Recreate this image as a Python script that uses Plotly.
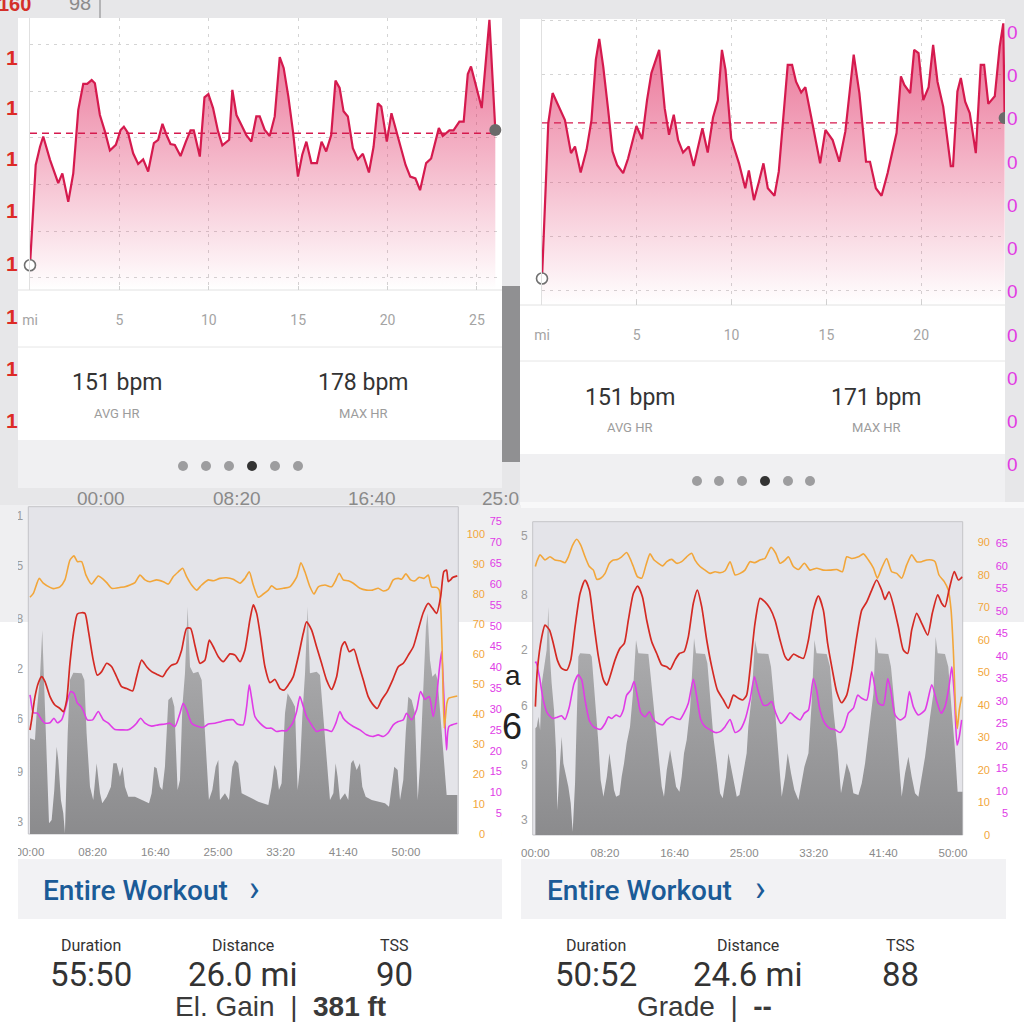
import plotly.graph_objects as go

# ============================ DATA ============================
# --- Ride 1 (left column): heart rate vs distance (card) ---
ride1_mi = [0.00,0.32,0.56,0.74,1.12,1.58,1.81,2.14,2.42,2.70,
            2.98,3.20,3.45,3.63,3.91,4.19,4.47,4.80,5.07,5.25,
            5.49,5.77,6.05,6.33,6.61,6.93,7.17,7.41,7.64,7.86,
            8.10,8.42,8.72,8.98,9.16,9.50,9.76,9.98,10.24,10.52,
            10.76,11.14,11.32,11.55,11.82,12.10,12.38,12.66,12.85,13.13,
            13.41,13.69,13.97,14.19,14.45,14.71,14.99,15.23,15.46,15.74,
            16.05,16.31,16.57,16.85,17.09,17.32,17.54,17.78,18.06,18.34,
            18.62,18.96,19.22,19.46,19.65,19.96,20.22,20.48,20.76,21.01,
            21.27,21.56,21.82,22.16,22.44,22.87,23.09,23.46,23.69,24.02,
            24.26,24.49,24.67,24.95,25.27,25.70,26.03]
ride1_hr = [122.7,144.2,148.1,150.3,145.3,140.3,142.4,136.3,142.4,156.0,
            161.6,161.6,162.4,161.7,154.9,151.4,147.3,148.5,151.7,152.4,
            151.0,146.7,144.4,145.4,142.8,148.9,149.6,153.0,150.6,148.7,
            148.5,146.1,149.2,151.6,151.6,146.0,158.7,159.4,156.4,151.4,
            148.4,149.6,160.3,154.9,152.8,150.6,149.2,154.6,154.6,151.7,
            150.4,154.6,167.3,165.0,158.9,151.4,141.7,146.4,149.2,144.6,
            144.6,149.2,147.1,150.6,162.3,160.7,155.7,154.6,147.8,145.4,
            146.6,142.6,148.1,157.4,156.7,149.2,155.3,151.7,148.1,144.2,
            141.7,141.3,138.8,144.6,145.6,152.1,150.4,151.6,151.6,153.5,
            153.5,163.7,165.3,160.9,156.4,175.3,151.7]
ride1_avg_hr = 151
ride1_max_hr = 178
ride1_mi_ticks = [0, 5, 10, 15, 20, 25]
ride1_mi_labels = ["mi", "5", "10", "15", "20", "25"]

# --- Ride 2 (right column): heart rate vs distance (card) ---
ride2_mi = [0.00,0.33,0.56,0.86,1.21,1.53,1.74,2.04,2.35,2.61,
            2.84,3.02,3.23,3.49,3.72,3.96,4.28,4.54,4.77,4.98,
            5.28,5.54,5.77,6.18,6.47,6.70,6.95,7.18,7.44,7.74,
            8.00,8.32,8.46,8.74,9.02,9.28,9.49,9.68,9.98,10.39,
            10.72,10.91,11.18,11.44,11.68,11.91,12.26,12.49,12.96,13.19,
            13.40,13.67,13.89,14.19,14.67,14.95,15.33,15.68,16.00,16.44,
            16.74,17.09,17.30,17.61,17.91,18.23,18.70,18.93,19.11,19.42,
            19.63,19.86,20.11,20.39,20.63,20.86,21.16,21.56,21.68,21.91,
            22.09,22.32,22.56,22.88,23.14,23.32,23.54,23.88,24.14,24.33,24.40]
ride2_hr = [122.2,150.9,156.5,154.3,151.5,145.4,146.6,141.8,146.0,151.5,
            162.7,166.5,161.4,153.4,145.7,143.2,141.7,144.4,147.8,150.4,
            148.0,155.2,160.2,164.5,153.7,148.8,152.5,147.8,145.5,146.6,
            143.0,147.8,150.0,145.5,152.0,155.2,164.5,160.8,148.1,143.5,
            138.9,142.2,136.7,140.1,143.5,138.9,137.5,142.0,161.7,161.7,
            158.6,156.6,157.6,152.2,143.5,149.7,147.8,143.8,149.4,163.6,
            156.5,143.8,143.8,138.9,137.5,141.7,149.1,159.6,158.0,156.5,
            164.5,163.9,155.2,157.6,165.4,158.6,154.0,143.0,143.0,156.8,
            159.3,154.9,152.8,145.4,161.7,161.7,154.5,155.9,165.1,169.4,151.9]
ride2_avg_hr = 151
ride2_max_hr = 171
ride2_mi_ticks = [0, 5, 10, 15, 20]
ride2_mi_labels = ["mi", "5", "10", "15", "20"]

# --- Ride 1 time charts (seconds) ---
r1_hr_t = [0,13,40,66,93,120,160,199,239,266,293,319,351,378,412,439,465,505,537,572,
           612,652,691,731,771,819,851,891,931,971,1011,1059,1090,1130,1170,1210,1250,1282,1316,1356,
           1396,1431,1463,1503,1543,1596,1636,1676,1715,1755,1782,1809,1840,1875,1915,1955,1995,2027,2061,2101,
           2141,2181,2207,2247,2287,2327,2367,2407,2447,2487,2513,2548,2585,2620,2660,2699,2734,2771,2806,2851,
           2894,2939,2979,3019,3059,3098,3138,3178,3213,3245,3277,3303,3324,3338,3356,3372,3410]
r1_hr = [122.4,125.6,133.1,137.4,139.5,137.9,133.1,130.4,129.3,128.3,132.0,143.8,154.5,159.6,160.0,159.8,154.5,144.8,140.0,141.1,
         143.8,142.7,139.5,136.3,135.7,134.9,139.5,144.8,142.7,141.1,140.3,139.5,141.4,143.2,143.8,148.0,155.0,155.0,149.6,143.8,
         144.8,151.2,149.1,145.9,144.3,146.8,146.4,144.3,148.0,157.7,162.5,159.8,152.3,142.7,137.6,138.6,135.7,135.2,136.8,139.5,
         145.9,153.4,157.1,154.5,149.1,143.8,138.4,135.4,139.5,149.1,150.7,147.5,148.3,143.8,138.4,133.1,130.7,129.3,132.0,134.7,
         138.4,142.7,143.8,146.4,149.1,154.5,160.0,163.0,161.4,159.8,165.1,173.2,173.7,170.0,170.5,171.3,171.8]
r1_cad_t = [0,27,74,106,160,186,239,279,319,351,378,412,447,492,545,585,612,652,705,758,
            798,838,878,918,957,1011,1064,1104,1144,1184,1218,1250,1290,1330,1370,1423,1463,1516,1569,1622,
            1676,1715,1750,1782,1822,1862,1902,1928,1968,2021,2074,2128,2162,2194,2234,2266,2301,2354,2407,2434,
            2468,2500,2540,2580,2633,2686,2734,2779,2819,2859,2899,2939,2965,3000,3037,3072,3106,3144,3178,3205,
            3245,3266,3287,3306,3327,3340,3410]
r1_cad = [78.9,80.2,85.2,83.6,82.2,81.8,82.4,84.7,91.3,92.7,90.8,90.8,86.3,83.3,86.0,84.9,83.8,81.9,82.1,82.4,
          83.0,83.8,86.3,84.7,84.1,84.7,84.1,83.3,85.8,87.4,88.6,85.8,83.0,81.3,83.0,84.7,84.4,85.2,85.4,84.9,
          83.6,85.2,87.4,83.0,78.9,80.0,81.3,82.7,81.6,81.9,82.4,85.6,90.4,87.4,82.4,80.0,82.4,83.0,82.4,84.1,
          86.9,84.7,84.4,83.6,81.9,81.3,81.3,81.9,81.0,81.6,84.7,85.2,84.9,86.7,84.7,84.4,85.6,85.2,86.3,82.4,
          82.2,81.3,64.7,35.2,43.6,45.2,46.0]
r1_pwr_t = [0,5,27,59,93,120,160,191,218,253,287,324,351,378,404,426,457,500,545,585,
            625,678,731,785,824,851,883,918,971,1024,1077,1117,1157,1197,1223,1250,1290,1330,1383,1423,
            1476,1529,1582,1622,1654,1702,1729,1750,1769,1795,1835,1888,1928,1968,2008,2048,2096,2128,2154,2181,
            2207,2239,2287,2327,2367,2407,2441,2473,2500,2540,2580,2633,2686,2734,2779,2819,2859,2899,2939,2979,
            3005,3045,3085,3117,3152,3186,3218,3245,3266,3285,3303,3324,3343,3410]
r1_pwr = [334,326,291,290,274,266,267,278,267,274,306,342,338,314,307,296,274,274,294,274,
          266,251,250,250,258,266,278,266,259,262,264,266,258,290,314,298,266,259,256,264,
          266,270,274,274,264,262,306,358,326,282,266,254,254,246,248,248,266,294,330,306,
          282,266,246,250,250,246,266,294,278,266,258,250,238,234,238,234,243,262,270,274,
          290,274,298,342,323,330,282,330,394,438,330,202,258,266]
r1_elev_t = [0,40,53,80,98,114,133,152,173,194,213,226,247,266,279,301,319,346,412,434,
             452,479,505,532,559,577,612,646,665,692,718,739,758,785,838,891,950,971,992,1011,
             1037,1056,1077,1104,1131,1152,1178,1197,1216,1237,1258,1277,1303,1343,1370,1397,1428,1455,1482,1503,
             1516,1556,1588,1615,1636,1662,1689,1769,1822,1902,1929,1950,1968,1987,2008,2035,2056,2088,2115,2136,
             2155,2173,2195,2216,2234,2288,2314,2341,2367,2394,2421,2439,2455,2474,2514,2540,2562,2580,2607,2633,
             2652,2679,2727,2780,2833,2865,2886,2907,2934,2953,2979,2998,3019,3046,3072,3094,3112,3139,3160,3173,
             3192,3211,3237,3253,3285,3306,3325,3410]
r1_elev = [287,282,362,472,612,442,242,32,42,132,262,222,102,62,2,302,462,484,482,462,
           302,142,102,212,122,92,112,142,212,212,172,202,142,112,112,102,92,122,202,197,
           142,132,202,402,412,382,132,162,382,482,682,502,482,487,462,302,102,132,202,222,
           102,122,102,202,222,212,122,107,97,87,142,207,192,132,152,362,422,402,382,132,
           202,352,482,682,482,487,477,352,222,102,122,212,172,102,122,102,212,222,192,212,
           142,112,102,97,92,82,142,202,192,102,162,302,412,402,362,102,202,442,622,662,
           522,472,482,462,302,202,117,117]
r1_hr_ticks = [93, 109, 126, 142, 158, 175, 191]
r1_cad_ticks = [0, 10, 20, 30, 40, 50, 60, 70, 80, 90, 100]
r1_pwr_ticks = [0, 50, 100, 150, 200, 250, 300, 350, 400, 450, 500, 550, 600, 650, 700, 750]

# --- Ride 2 time charts (seconds) ---
r2_hr_t = [0,14,46,69,101,129,158,189,225,254,285,321,357,388,417,453,489,513,536,572,
           608,639,668,704,735,769,800,836,872,908,944,968,1003,1035,1068,1099,1135,1164,1195,1231,
           1267,1308,1351,1387,1423,1459,1490,1518,1542,1578,1614,1650,1686,1722,1758,1794,1818,1854,1890,1926,
           1962,1997,2033,2069,2100,2134,2165,2201,2237,2273,2309,2345,2381,2417,2452,2488,2512,2541,2572,2608,
           2644,2675,2704,2740,2776,2819,2852,2891,2919,2943,2972,3010,3039,3068]
r2_hr = [125.7,136.2,145.8,149.2,147.8,143.9,139.1,136.7,136.2,139.1,148.7,158.3,162.2,159.3,150.6,140.1,133.4,131.9,134.3,139.1,
         142.5,143.9,150.6,158.3,160.4,157.4,150.6,144.4,141.0,137.7,137.2,136.4,139.1,141.0,141.5,145.8,155.5,159.3,154.5,144.9,
         137.2,130.5,127.6,125.2,129.0,128.1,127.6,129.0,136.2,149.7,156.9,155.9,154.0,150.6,144.9,140.1,139.1,140.8,140.1,139.6,
         144.9,153.5,157.6,153.5,143.9,136.2,130.0,126.8,129.0,136.2,145.8,153.5,155.9,159.3,162.2,159.3,156.6,158.8,155.0,148.7,
         142.0,141.0,147.8,152.6,149.7,146.3,152.6,157.9,155.5,154.5,159.3,164.6,162.2,163.1]
r2_cad_t = [0,10,34,69,105,141,177,213,237,268,297,326,357,388,417,441,469,501,532,560,
            589,620,656,680,704,733,764,795,824,853,884,915,944,980,1015,1051,1087,1123,1147,1183,
            1219,1255,1291,1327,1363,1399,1435,1471,1506,1542,1578,1614,1650,1693,1727,1758,1794,1818,1854,1890,
            1933,1974,2021,2069,2117,2165,2206,2237,2273,2321,2357,2393,2429,2457,2488,2524,2560,2596,2632,2668,
            2704,2740,2776,2812,2848,2872,2900,2939,2967,2987,3003,3020,3032,3046,3063]
r2_cad = [82.6,84.1,86.2,84.6,85.6,84.6,84.4,83.8,85.6,89.2,91.0,89.2,85.6,82.6,81.5,78.7,79.0,80.5,83.6,84.6,
          84.8,85.6,86.9,85.1,82.6,79.5,79.0,83.1,86.5,84.6,83.6,82.8,84.1,84.8,83.6,84.1,85.6,86.7,84.6,82.6,
          81.5,80.5,81.0,80.7,81.3,84.1,80.0,80.5,81.5,84.1,83.8,84.6,85.1,88.5,86.7,83.6,84.6,85.6,82.6,81.7,
          83.6,81.5,82.1,81.5,81.5,81.7,81.0,85.6,85.1,85.6,86.5,84.6,82.1,79.0,82.1,85.1,81.0,80.5,79.0,83.1,
          86.2,84.1,84.1,84.6,84.6,84.1,80.0,77.9,75.4,69.2,56.9,38.5,32.8,38.5,42.6]
r2_spd_t = [0,5,29,57,86,125,158,189,213,244,278,309,333,357,388,417,441,469,501,525,
            548,580,608,632,656,685,709,733,757,788,819,848,884,915,944,980,1011,1039,1068,1099,
            1135,1159,1188,1219,1255,1291,1327,1363,1399,1435,1471,1506,1542,1574,1602,1638,1669,1698,1727,1765,
            1794,1830,1866,1902,1933,1962,1997,2021,2045,2081,2117,2153,2189,2220,2249,2285,2316,2345,2381,2417,
            2441,2464,2500,2532,2555,2584,2620,2656,2687,2716,2752,2800,2848,2884,2915,2943,2972,2992,3011,3030,
            3046,3063]
r2_spd = [38.4,38.7,35.4,30.2,27.3,26.1,26.4,26.7,25.9,28.7,33.9,35.8,34.7,30.2,25.6,24.3,23.9,23.7,25.0,26.5,
          26.1,26.9,26.5,28.0,31.3,32.4,34.3,31.0,27.4,26.5,27.6,25.9,25.0,24.7,25.8,26.5,26.1,25.9,27.3,29.5,
          34.8,31.0,25.9,24.3,23.6,23.0,23.2,24.3,25.9,23.0,23.6,25.8,30.2,35.4,32.1,29.1,29.1,29.9,27.3,25.0,
          25.8,27.4,26.5,25.8,27.3,28.0,35.0,32.4,28.0,25.0,23.9,23.6,23.0,24.3,27.3,28.4,31.3,30.6,30.2,36.5,
          32.8,29.5,29.1,35.0,32.1,26.9,25.8,26.5,32.1,28.7,26.9,28.0,33.6,29.9,27.3,28.7,33.2,37.6,31.0,20.2,
          22.1,25.8]
r2_elev_t = [0,10,22,34,46,62,81,93,105,117,134,148,158,172,189,201,220,237,254,268,
             285,297,309,321,393,405,429,453,469,489,513,532,548,565,580,604,620,637,656,680,
             699,716,723,740,812,829,860,891,908,924,944,968,992,1011,1035,1051,1068,1087,1111,1130,
             1140,1154,1219,1236,1255,1279,1303,1327,1346,1370,1387,1411,1428,1447,1466,1494,1518,1530,1554,1578,
             1597,1674,1693,1722,1746,1770,1794,1813,1837,1861,1890,1909,1933,1962,1985,2005,2021,2093,2117,2141,
             2172,2196,2220,2237,2261,2285,2321,2345,2369,2405,2429,2445,2464,2536,2555,2584,2608,2632,2656,2680,
             2704,2728,2752,2776,2800,2836,2860,2876,2891,2943,2967,2991,3015,3034,3070]
r2_elev = [320,325,355,315,455,495,555,685,535,455,375,255,75,185,295,215,175,145,95,10,
           155,355,535,545,543,535,415,275,165,115,175,245,195,135,115,120,175,215,275,325,
           415,555,585,545,543,475,335,215,145,115,195,255,195,145,130,175,245,285,375,495,
           590,545,543,515,415,295,215,125,110,175,245,195,155,115,120,195,245,325,415,585,
           545,543,505,375,255,115,175,245,185,135,105,145,205,245,395,585,545,543,505,375,
           255,125,175,215,185,125,120,155,215,335,425,595,545,543,505,375,255,115,185,235,
           175,125,115,175,235,355,425,595,545,543,505,375,255,130,130]
r2_hr_ticks = [93, 109, 126, 142, 158, 175]
r2_cad_ticks = [0, 10, 20, 30, 40, 50, 60, 70, 80, 90]
r2_spd_ticks = [5, 10, 15, 20, 25, 30, 35, 40, 45, 50, 55, 60, 65]

time_ticks = [0, 500, 1000, 1500, 2000, 2500, 3000]
time_labels = ["00:00", "08:20", "16:40", "25:00", "33:20", "41:40", "50:00"]

# --- Summaries ---
summary_labels = ["Duration", "Distance", "TSS"]
ride1_summary = ["55:50", "26.0 mi", "90"]
ride2_summary = ["50:52", "24.6 mi", "88"]

# ============================ STYLE / LAYOUT ============================
FONT = "Liberation Sans"
UI = "Roboto"
HR_COL = "#d51a4e"
RED = "#d42a24"
ORANGE = "#f2a63a"
MAGENTA = "#e03ce6"


def PX(v):
    return v / 1024.0


def PY(v):
    return 1 - v / 1024.0


shapes = []
annotations = []


def rect(x0, y0, x1, y1, fill, layer="below", line=None):
    shapes.append(dict(type="rect", xref="paper", yref="paper",
                       x0=PX(x0), x1=PX(x1), y0=PY(y1), y1=PY(y0),
                       fillcolor=fill, layer=layer,
                       line=dict(width=0) if line is None else dict(color=line, width=1)))


def seg(x0, y0, x1, y1, color, width=1, layer="below"):
    shapes.append(dict(type="line", xref="paper", yref="paper",
                       x0=PX(x0), x1=PX(x1), y0=PY(y0), y1=PY(y1),
                       line=dict(color=color, width=width), layer=layer))


def dot(cx, cy, r, color):
    shapes.append(dict(type="circle", xref="paper", yref="paper",
                       x0=PX(cx - r), x1=PX(cx + r), y0=PY(cy + r), y1=PY(cy - r),
                       fillcolor=color, line=dict(width=0), layer="below"))


def txt(x, y, s, size, color, family=UI, xanchor="center", yanchor="middle", weight="normal"):
    annotations.append(dict(x=PX(x), y=PY(y), xref="paper", yref="paper", text=s,
                            showarrow=False, xanchor=xanchor, yanchor=yanchor,
                            font=dict(family=family, size=size, color=color, weight=weight)))


# ---------------- backgrounds ----------------
rect(0, 622, 1024, 1024, "#ffffff")
rect(0, 505, 518, 622, "#efeff1")
rect(520, 502, 1024, 508, "#f8f8f9")
rect(521, 508, 1024, 622, "#efeff1")
# bottom chart plot areas
rect(28.3, 506.7, 458.3, 834, "#e4e4e9", line="#c4c4c8")
rect(532.7, 521.7, 962.7, 835, "#e4e4e9", line="#c4c4c8")
# dark strip between cards (chart behind)
rect(502, 286, 520, 462, "#909092")
# top-left card
rect(18, 18, 502, 440, "#ffffff")
rect(18, 440, 502, 488, "#f0f0f2")
seg(18, 290, 502, 290, "#e2e2e2")
seg(18, 347, 502, 347, "#e6e6e6")
# top-right card
rect(520, 19, 1005, 454, "#ffffff")
rect(520, 454, 1005, 502, "#f0f0f2")
seg(520, 305, 1005, 305, "#e2e2e2")
seg(520, 361, 1005, 361, "#e6e6e6")
# "Entire Workout" bars
rect(18, 859, 502, 919, "#f2f2f4")
rect(521, 859, 1006, 919, "#f2f2f4")
seg(100, 0, 100, 18, "#b4b4b6", 2)
# page dots
for i, cx in enumerate([183, 206, 229, 252, 275, 298]):
    dot(cx, 466, 5, "#333333" if i == 3 else "#9d9d9f")
for i, cx in enumerate([697, 719, 742, 765, 788, 810]):
    dot(cx, 481, 5, "#333333" if i == 3 else "#9d9d9f")
# covers that crop the bottom screenshots' side labels
rect(0, 505, 18, 622, "#efeff1", layer="above")
rect(0, 622, 18, 858, "#ffffff", layer="above")
rect(502, 505, 521, 622, "#efeff1", layer="above")
rect(502, 622, 521, 858, "#ffffff", layer="above")

fig = go.Figure()

# ---------------- HR cards ----------------
TL_YR = [117.4, 175.7]
TR_YR = [117.3, 170.2]


def hr_card(n, mi, hr, avg, yr, clip_end):
    xa, ya = ("x", "y") if n == 1 else (f"x{n}", f"y{n}")
    fig.add_trace(go.Scatter(
        x=mi, y=hr, xaxis=xa, yaxis=ya, mode="lines",
        line=dict(color=HR_COL, width=2.2), fill="tozeroy",
        fillgradient=dict(type="vertical", start=yr[0], stop=yr[1],
                          colorscale=[[0, "rgba(220,20,80,0.0)"], [1, "rgba(220,20,80,0.64)"]]),
        hoverinfo="skip"))
    fig.add_trace(go.Scatter(
        x=[mi[0], mi[-1]], y=[avg, avg], xaxis=xa, yaxis=ya, mode="lines",
        line=dict(color=HR_COL, width=1.3, dash="7px,5px"), hoverinfo="skip"))
    fig.add_trace(go.Scatter(
        x=[mi[0]], y=[hr[0]], xaxis=xa, yaxis=ya, mode="markers", cliponaxis=False,
        marker=dict(size=11, color="#ffffff", line=dict(color="#707070", width=1.6)), hoverinfo="skip"))
    fig.add_trace(go.Scatter(
        x=[mi[-1]], y=[hr[-1]], xaxis=xa, yaxis=ya, mode="markers", cliponaxis=clip_end,
        marker=dict(size=12, color="#6a6a6a"), hoverinfo="skip"))


hr_card(1, ride1_mi, ride1_hr, ride1_avg_hr, TL_YR, False)
hr_card(2, ride2_mi, ride2_hr, ride2_avg_hr, TR_YR, True)


def card_axes(n, xdom, ydom, xr, yr, ticks, labels, standoff):
    sfx = "" if n == 1 else str(n)
    xa = dict(domain=xdom, range=xr, anchor="y" + sfx, tickmode="array", tickvals=ticks, ticktext=labels,
              showgrid=True, gridcolor="#d4d4d4", griddash="3px,5px", gridwidth=1, zeroline=False,
              ticks="inside", ticklen=4, tickcolor="#d0d0d0",
              tickfont=dict(family=UI, size=14, color="#a4a4a4"), ticklabelstandoff=standoff,
              showline=False, fixedrange=True, automargin=False)
    ya = dict(domain=ydom, range=yr, anchor="x" + sfx, tickmode="array",
              tickvals=[120, 130, 140, 150, 160, 170],
              showgrid=True, gridcolor="#d4d4d4", griddash="3px,5px", gridwidth=1, zeroline=False,
              showticklabels=False, ticks="", showline=True, linecolor="#e0e0e0", linewidth=1,
              fixedrange=True, automargin=False)
    return xa, ya


xa1, ya1 = card_axes(1, [PX(30), PX(498)], [PY(290), PY(18)], [0, 26.18], TL_YR,
                     ride1_mi_ticks, ride1_mi_labels, 20)
xa2, ya2 = card_axes(2, [PX(542), PX(1005)], [PY(305), PY(19)], [0, 24.42], TR_YR,
                     ride2_mi_ticks, ride2_mi_labels, 20)

# ---------------- time charts ----------------


def time_chart(xa, ya_area, ya_mag, ya_cad, ya_hr, area_t, area_v, mag_t, mag_v, cad_t, cad_v, hr_t, hr_v):
    fig.add_trace(go.Scatter(
        x=area_t, y=area_v, xaxis=xa, yaxis=ya_area, mode="lines", line=dict(width=0),
        fill="tozeroy",
        fillgradient=dict(type="vertical", start=0, stop=700,
                          colorscale=[[0, "#8b8b8d"], [1, "#b3b3b5"]]),
        hoverinfo="skip"))
    fig.add_trace(go.Scatter(x=mag_t, y=mag_v, xaxis=xa, yaxis=ya_mag, mode="lines",
                             line=dict(color=MAGENTA, width=1.6, shape="spline", smoothing=0.6),
                             hoverinfo="skip"))
    fig.add_trace(go.Scatter(x=cad_t, y=cad_v, xaxis=xa, yaxis=ya_cad, mode="lines",
                             line=dict(color=ORANGE, width=1.6, shape="spline", smoothing=0.6),
                             hoverinfo="skip"))
    fig.add_trace(go.Scatter(x=hr_t, y=hr_v, xaxis=xa, yaxis=ya_hr, mode="lines",
                             line=dict(color=RED, width=1.7, shape="spline", smoothing=0.6),
                             hoverinfo="skip"))


time_chart("x3", "y3", "y4", "y5", "y6", r1_elev_t, r1_elev, r1_pwr_t, r1_pwr, r1_cad_t, r1_cad, r1_hr_t, r1_hr)
time_chart("x4", "y7", "y8", "y9", "y10", r2_elev_t, r2_elev, r2_spd_t, r2_spd, r2_cad_t, r2_cad, r2_hr_t, r2_hr)


def time_x(dom, rng, anchor):
    return dict(domain=dom, range=rng, anchor=anchor, tickmode="array", tickvals=time_ticks,
                ticktext=time_labels, showgrid=False, zeroline=False, ticks="", showline=False,
                tickfont=dict(family=FONT, size=11.5, color="#8a8a8a"), ticklabelstandoff=9,
                fixedrange=True, automargin=False)


def side_axis(overlay, rng, ticks, color, pos=None, anchor=None, size=11, standoff=None):
    d = dict(overlaying=overlay, range=rng, tickmode="array", tickvals=ticks,
             showgrid=False, zeroline=False, ticks="", showline=False, side="left",
             tickfont=dict(family=FONT, size=size, color=color), fixedrange=True, automargin=False)
    if standoff is not None:
        d["ticklabelstandoff"] = standoff
    if pos is None:
        d["anchor"] = anchor
    else:
        d["anchor"] = "free"
        d["position"] = pos
    return d


xa3 = time_x([PX(28.3), PX(458.3)], [-13.3, 3418], "y3")
ya3 = dict(domain=[PY(834), PY(506.7)], range=[0, 982], visible=False, anchor="x3",
           fixedrange=True, automargin=False)
ya4 = side_axis("y3", [0, 785.6], r1_pwr_ticks, MAGENTA, pos=PX(508))
ya5 = side_axis("y3", [0, 109.1], r1_cad_ticks, ORANGE, pos=PX(485))
ya6 = side_axis("y3", [89.05, 194.0], r1_hr_ticks, "#9c9c9c", anchor="x3", size=12, standoff=4)

xa4 = time_x([PX(532.7), PX(962.7)], [-19.2, 3070.4], "y7")
ya7 = dict(domain=[PY(835), PY(521.7)], range=[0, 940], visible=False, anchor="x4",
           fixedrange=True, automargin=False)
ya8 = side_axis("y7", [0.22, 69.85], r2_spd_ticks, MAGENTA, pos=PX(1008))
ya9 = side_axis("y7", [0, 96.4], r2_cad_ticks, ORANGE, pos=PX(990))
ya10 = side_axis("y7", [88.68, 179.0], r2_hr_ticks, "#9c9c9c", anchor="x4", size=12, standoff=4)

# ---------------- texts ----------------
txt(117, 382, f"{ride1_avg_hr} bpm", 23, "#333333")
txt(117, 413, "AVG HR", 13, "#9c9c9c")
txt(363, 382, f"{ride1_max_hr} bpm", 23, "#333333")
txt(363, 413, "MAX HR", 13, "#9c9c9c")
txt(630, 397, f"{ride2_avg_hr} bpm", 23, "#333333")
txt(630, 427, "AVG HR", 13, "#9c9c9c")
txt(876, 397, f"{ride2_max_hr} bpm", 23, "#333333")
txt(876, 427, "MAX HR", 13, "#9c9c9c")

txt(41, 890, "Entire Workout", 28, "#1b5b97", xanchor="left", weight=500)
txt(254, 889, "›", 36, "#1b5b97")
txt(545, 890, "Entire Workout", 28, "#1b5b97", xanchor="left", weight=500)
txt(760, 889, "›", 36, "#1b5b97")

for cx, lab, val in zip([91, 243, 394], summary_labels, ride1_summary):
    txt(cx, 945, lab, 16, "#333333")
    txt(cx, 974, val, 33, "#333333")
for cx, lab, val in zip([596, 748, 900], summary_labels, ride2_summary):
    txt(cx, 945, lab, 16, "#333333")
    txt(cx, 974, val, 33, "#333333")
txt(280, 1024, "El. Gain  |  <b>381 ft</b>", 28, "#3a3a3a", family=FONT, yanchor="bottom")
txt(704, 1024, "Grade  |  <b>--</b>", 28, "#3a3a3a", family=FONT, yanchor="bottom")

# fragments of screenshots underneath
txt(14, 4, "160", 20, "#d4302a", family=FONT, weight="bold")
txt(80, 3, "98", 20, "#8c8c8c", family=FONT)
for yy in [57, 107, 158, 210, 263, 316, 368, 420]:
    txt(12, yy, "1", 21, "#dd2b25", family=FONT, weight="bold")
for yy in [32, 75, 118, 162, 205, 248, 291, 335, 378, 421, 464]:
    txt(1012, yy, "0", 19, "#e23be3", family=FONT)
for xx, lab in zip([101, 237, 372, 500], ["00:00", "08:20", "16:40", "25:0"]):
    txt(xx, 498, lab, 19, "#8a8a8a", family=FONT)
txt(513, 675, "a", 28, "#222222", family=FONT)
txt(512, 726, "6", 36, "#222222", family=FONT)

fig.update_layout(
    width=1024, height=1024, margin=dict(l=0, r=0, t=0, b=0, autoexpand=False),
    paper_bgcolor="#e7e7e9", plot_bgcolor="rgba(0,0,0,0)", showlegend=False,
    xaxis=xa1, yaxis=ya1, xaxis2=xa2, yaxis2=ya2,
    xaxis3=xa3, yaxis3=ya3, yaxis4=ya4, yaxis5=ya5, yaxis6=ya6,
    xaxis4=xa4, yaxis7=ya7, yaxis8=ya8, yaxis9=ya9, yaxis10=ya10,
    shapes=shapes, annotations=annotations,
)

fig.write_html("out.html", config={"displayModeBar": False, "staticPlot": True},
               post_script="document.body.style.margin='0px';document.body.style.overflow='hidden';")
